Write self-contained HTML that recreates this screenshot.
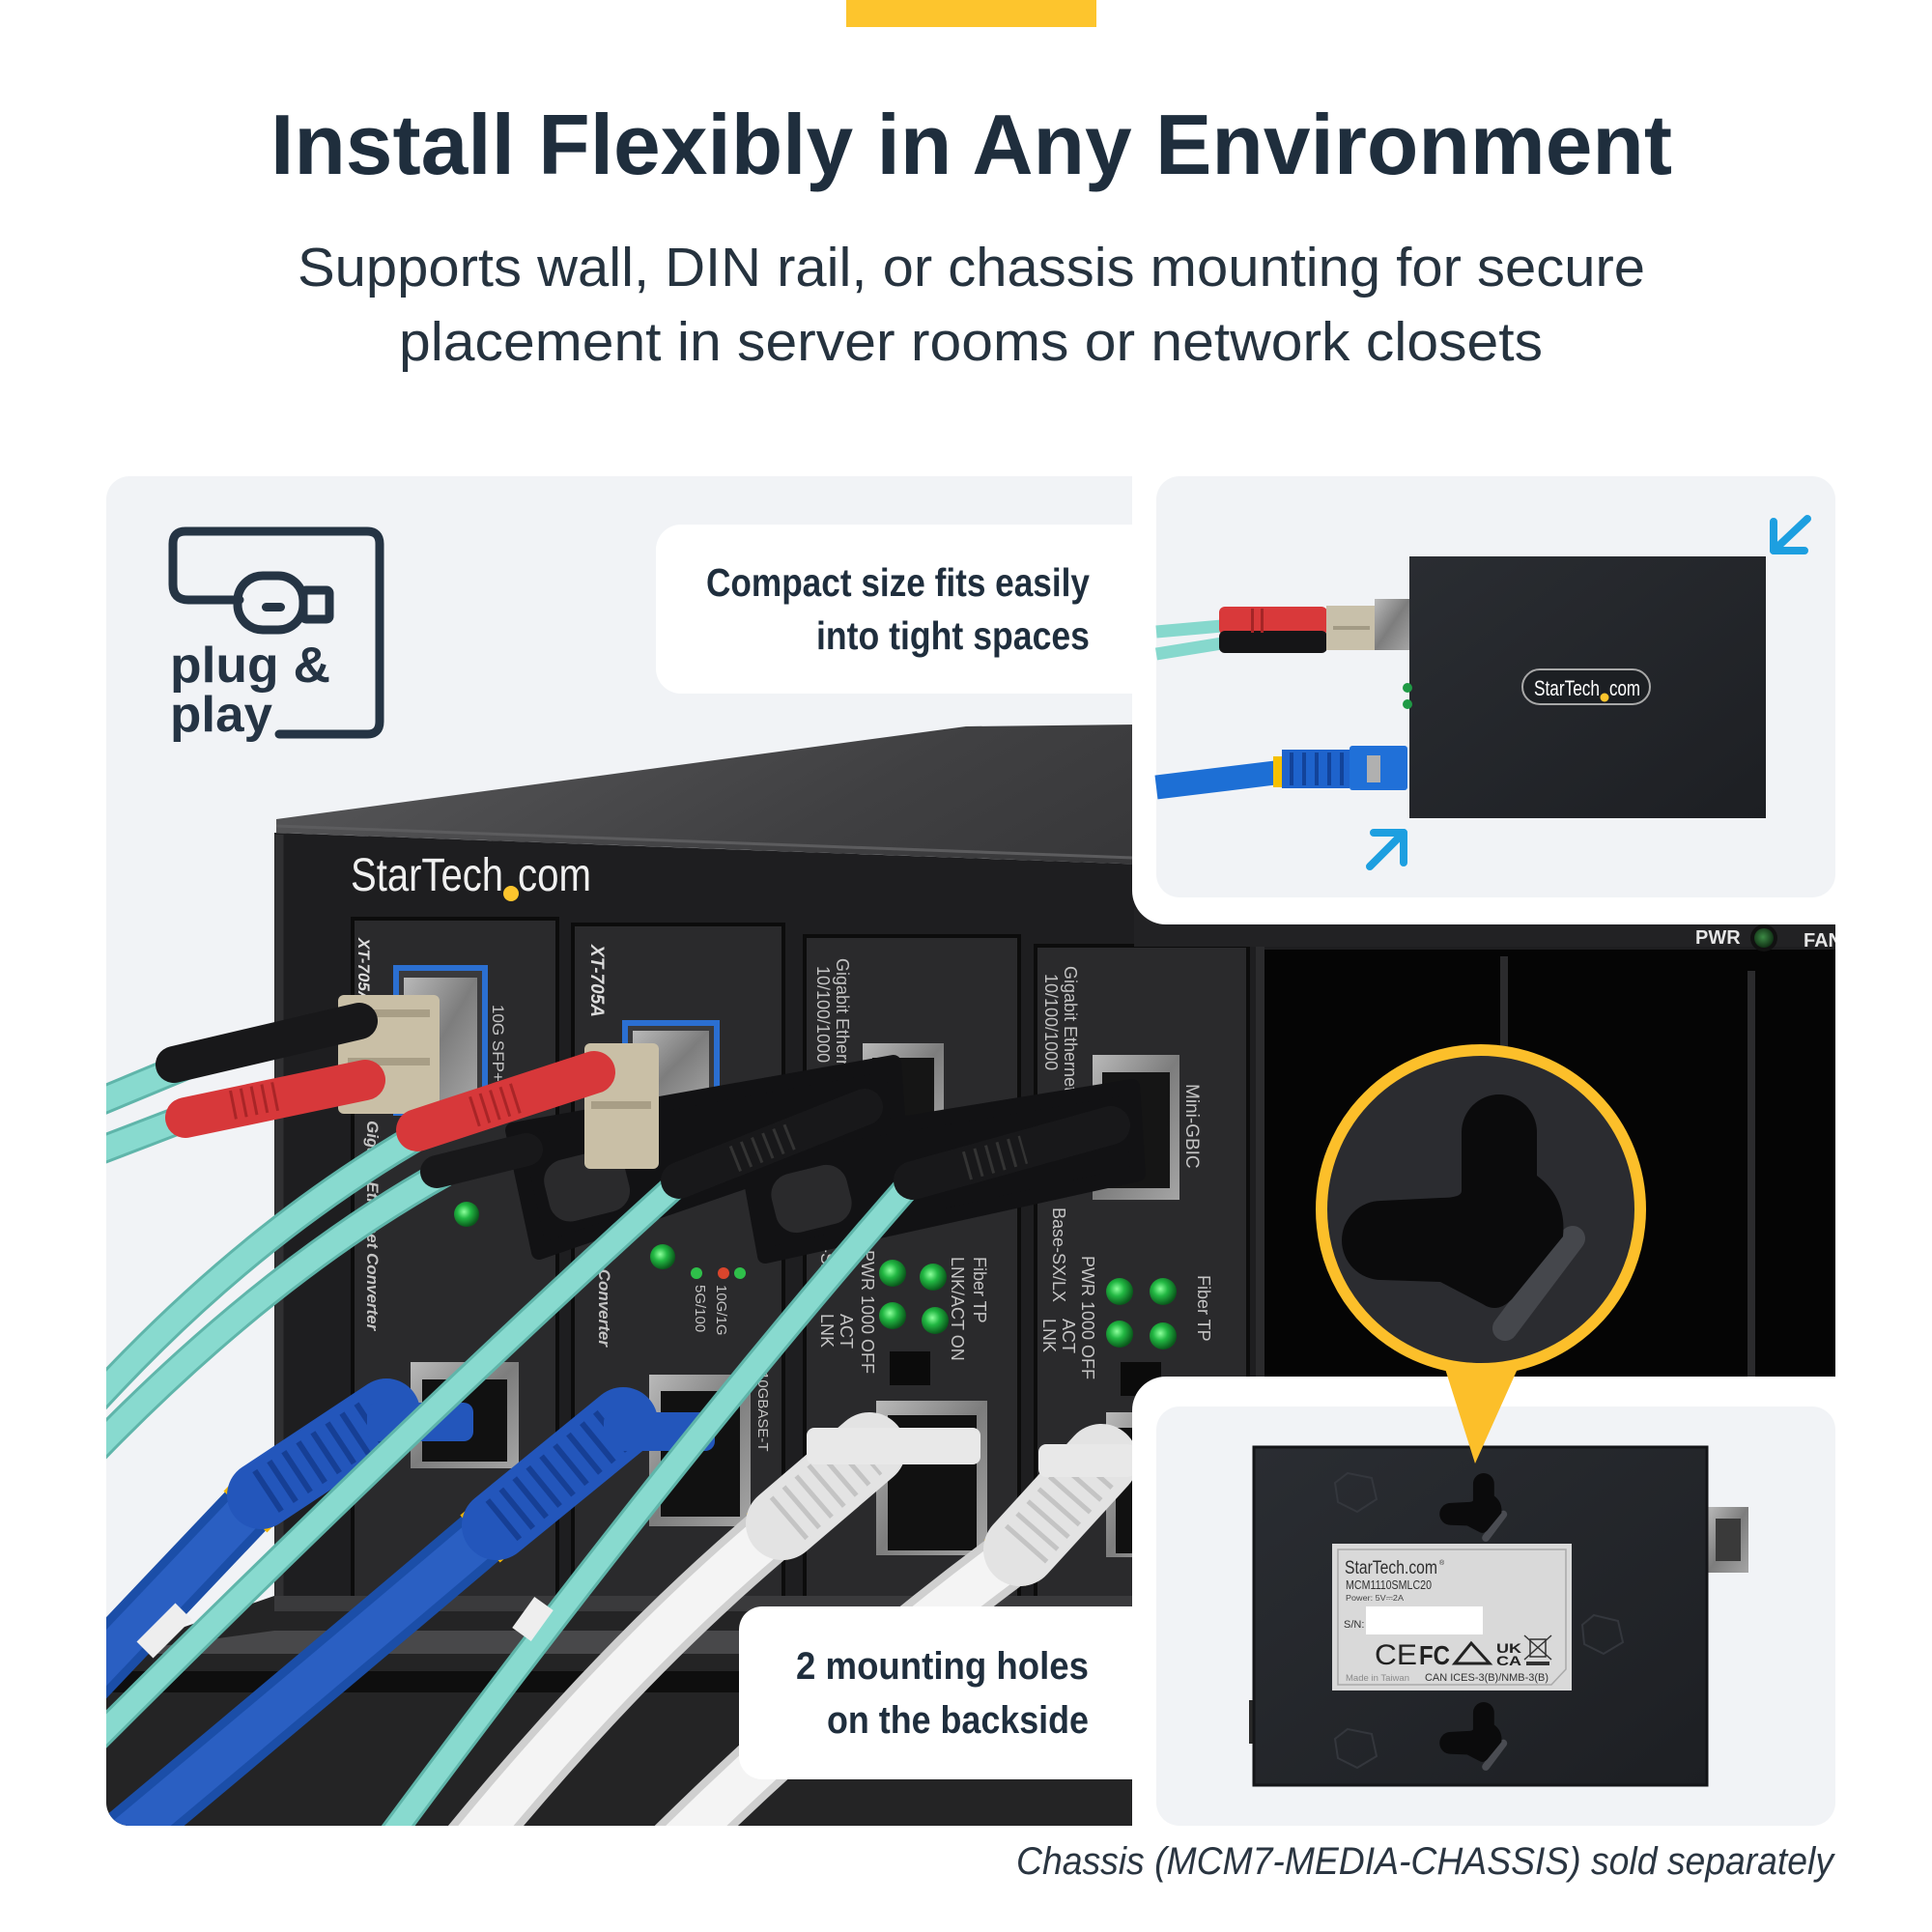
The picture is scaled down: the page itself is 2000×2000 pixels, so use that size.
<!DOCTYPE html>
<html><head><meta charset="utf-8">
<style>
html,body{margin:0;padding:0;background:#fff;}
svg{display:block;}
</style></head>
<body>
<svg width="2000" height="2000" viewBox="0 0 2000 2000" xmlns="http://www.w3.org/2000/svg" font-family="'Liberation Sans', 'DejaVu Sans', sans-serif">
<defs>
  <clipPath id="mainclip"><rect x="110" y="493" width="1790" height="1397" rx="24"/></clipPath>
  <linearGradient id="topsurf" x1="0" y1="0" x2="1" y2="0.2">
    <stop offset="0" stop-color="#5a5a5c"/><stop offset="0.45" stop-color="#404042"/><stop offset="1" stop-color="#2c2c2e"/>
  </linearGradient>
  <linearGradient id="dev" x1="0" y1="0" x2="1" y2="1">
    <stop offset="0" stop-color="#2a2d32"/><stop offset="1" stop-color="#1d1f23"/>
  </linearGradient>
  <radialGradient id="led" cx="0.4" cy="0.4" r="0.6">
    <stop offset="0" stop-color="#8dff9c"/><stop offset="0.45" stop-color="#22b843"/><stop offset="1" stop-color="#0a5a1c"/>
  </radialGradient>
  <radialGradient id="ledd" cx="0.45" cy="0.45" r="0.6">
    <stop offset="0" stop-color="#3c8a45"/><stop offset="1" stop-color="#0e2a12"/>
  </radialGradient>
  <linearGradient id="metal" x1="0" y1="0" x2="1" y2="1">
    <stop offset="0" stop-color="#b9b9b9"/><stop offset="0.5" stop-color="#7d7d7d"/><stop offset="1" stop-color="#a5a5a5"/>
  </linearGradient>
</defs>

<rect width="2000" height="2000" fill="#ffffff"/>
<rect x="876" y="0" width="259" height="28" fill="#fdc52d"/>

<text x="280" y="180" font-size="88" font-weight="700" fill="#1f2e3d" textLength="1451" lengthAdjust="spacingAndGlyphs">Install Flexibly in Any Environment</text>
<text x="308" y="296" font-size="57" fill="#26333f" textLength="1395" lengthAdjust="spacingAndGlyphs">Supports wall, DIN rail, or chassis mounting for secure</text>
<text x="413" y="373" font-size="57" fill="#26333f" textLength="1184" lengthAdjust="spacingAndGlyphs">placement in server rooms or network closets</text>

<!-- ================= MAIN PHOTO PANEL ================= -->
<g clip-path="url(#mainclip)">
  <rect x="110" y="493" width="1790" height="1397" fill="#f1f3f6"/>

  <!-- chassis top surface -->
  <polygon points="286,848 1000,752 1900,742 1900,921 286,862" fill="url(#topsurf)"/>
  <line x1="286" y1="855" x2="1900" y2="915" stroke="#5c5c5e" stroke-width="3"/>
  <!-- chassis front face -->
  <polygon points="284,862 1900,921 1900,1890 284,1890" fill="#1e1e20"/>
  <line x1="289" y1="864" x2="289" y2="1660" stroke="#303032" stroke-width="9"/>

  <!-- logo -->
  <text x="363" y="922" font-size="48" fill="#f0f0f0" textLength="158" lengthAdjust="spacingAndGlyphs">StarTech</text>
  <circle cx="529" cy="925" r="8" fill="#fdc52d"/>
  <text x="536" y="922" font-size="48" fill="#f0f0f0" textLength="76" lengthAdjust="spacingAndGlyphs">com</text>

  <!-- modules -->
  <rect x="365" y="951" width="212" height="710" fill="#2a2a2c" stroke="#0c0c0c" stroke-width="4"/>
  <rect x="593" y="957" width="218" height="705" fill="#2a2a2c" stroke="#0c0c0c" stroke-width="4"/>
  <rect x="833" y="969" width="222" height="695" fill="#2a2a2c" stroke="#0c0c0c" stroke-width="4"/>
  <rect x="1072" y="979" width="220" height="690" fill="#2a2a2c" stroke="#0c0c0c" stroke-width="4"/>
  <!-- empty slots -->
  <rect x="1300" y="983" width="600" height="700" fill="#050505"/>
  <rect x="1300" y="975" width="9" height="700" fill="#2b2b2d"/>
  <rect x="1553" y="990" width="8" height="700" fill="#2b2b2d"/>
  <rect x="1809" y="1005" width="8" height="700" fill="#2b2b2d"/>
  <!-- top band right -->
  <rect x="1174" y="940" width="726" height="40" fill="#222224"/>
  <text x="1755" y="977" font-size="20" font-weight="700" fill="#e6e6e6">PWR</text>
  <circle cx="1826" cy="971" r="14" fill="#111"/>
  <circle cx="1826" cy="971" r="10" fill="url(#ledd)"/>
  <text x="1867" y="980" font-size="20" font-weight="700" fill="#e6e6e6">FAN</text>

  <!-- module labels -->
  <g fill="#c4c4c4" font-size="17">
    <text transform="translate(371,971) rotate(90)" font-weight="700" font-style="italic" fill="#dcdcdc">XT-705A</text>
    <text transform="translate(612,978) rotate(90)" font-weight="700" font-style="italic" fill="#dcdcdc" font-size="19">XT-705A</text>
    <text transform="translate(510,1040) rotate(90)">10G SFP+</text>
    <text transform="translate(380,1160) rotate(90)" font-weight="700" font-style="italic">Gigabit Ethernet Converter</text>
    <text transform="translate(620,1240) rotate(90)" font-weight="700" font-style="italic">Ethernet Converter</text>
    <text transform="translate(866,992) rotate(90)" font-size="18">Gigabit Ethernet</text>
    <text transform="translate(846,1000) rotate(90)" font-size="18">10/100/1000</text>
    <text transform="translate(1102,1000) rotate(90)" font-size="18">Gigabit Ethernet</text>
    <text transform="translate(1082,1008) rotate(90)" font-size="18">10/100/1000</text>
    <text transform="translate(1228,1122) rotate(90)" font-size="19">Mini-GBIC</text>
    <text transform="translate(1090,1250) rotate(90)" font-size="18">Base-SX/LX</text>
    <text transform="translate(850,1250) rotate(90)" font-size="18">Base-SX</text>
    <text transform="translate(1008,1301) rotate(90)" font-size="18">Fiber  TP</text>
    <text transform="translate(985,1301) rotate(90)" font-size="18">LNK/ACT  ON</text>
    <text transform="translate(892,1294) rotate(90)" font-size="18">PWR 1000  OFF</text>
    <text transform="translate(870,1360) rotate(90)" font-size="18">ACT</text>
    <text transform="translate(850,1360) rotate(90)" font-size="18">LNK</text>
    <text transform="translate(1240,1320) rotate(90)" font-size="18">Fiber  TP</text>
    <text transform="translate(1120,1300) rotate(90)" font-size="18">PWR 1000  OFF</text>
    <text transform="translate(1100,1365) rotate(90)" font-size="18">ACT</text>
    <text transform="translate(1080,1365) rotate(90)" font-size="18">LNK</text>
    <text transform="translate(520,1420) rotate(90)" font-size="15">10GBASE-T</text>
    <text transform="translate(785,1420) rotate(90)" font-size="15">10GBASE-T</text>
    <text transform="translate(720,1330) rotate(90)" font-size="15">5G/100</text>
    <text transform="translate(742,1330) rotate(90)" font-size="15">10G/1G</text>
  </g>

  <!-- LEDs -->
  <circle cx="483" cy="1257" r="13" fill="url(#led)"/>
  <circle cx="686" cy="1301" r="13" fill="url(#led)"/>
  <circle cx="721" cy="1318" r="6" fill="#2fbf4a"/>
  <circle cx="749" cy="1318" r="6" fill="#d9452c"/>
  <circle cx="766" cy="1318" r="6" fill="#2fbf4a"/>
  <circle cx="924" cy="1318" r="14" fill="url(#led)"/>
  <circle cx="966" cy="1322" r="14" fill="url(#led)"/>
  <circle cx="924" cy="1362" r="14" fill="url(#led)"/>
  <circle cx="968" cy="1367" r="14" fill="url(#led)"/>
  <circle cx="1159" cy="1337" r="14" fill="url(#led)"/>
  <circle cx="1204" cy="1337" r="14" fill="url(#led)"/>
  <circle cx="1159" cy="1381" r="14" fill="url(#led)"/>
  <circle cx="1204" cy="1383" r="14" fill="url(#led)"/>
  <rect x="921" y="1399" width="42" height="35" fill="#0b0b0b"/>
  <rect x="1160" y="1410" width="42" height="35" fill="#0b0b0b"/>

  <!-- SFP cages -->
  <rect x="410" y="1002" width="92" height="150" fill="#3a3a3c" stroke="#2b6fd1" stroke-width="6"/>
  <rect x="418" y="1012" width="76" height="130" fill="url(#metal)"/>
  <rect x="647" y="1059" width="95" height="96" fill="#3a3a3c" stroke="#2b6fd1" stroke-width="6"/>
  <rect x="655" y="1067" width="79" height="80" fill="url(#metal)"/>
  <rect x="893" y="1080" width="84" height="101" fill="url(#metal)"/>
  <rect x="903" y="1095" width="64" height="75" fill="#151515"/>
  <rect x="1131" y="1092" width="90" height="150" fill="url(#metal)"/>
  <rect x="1141" y="1110" width="70" height="120" fill="#151515"/>

  <!-- RJ45 ports -->
  <rect x="425" y="1410" width="112" height="110" fill="url(#metal)"/>
  <rect x="437" y="1428" width="88" height="85" fill="#111"/>
  <rect x="672" y="1423" width="105" height="157" fill="url(#metal)"/>
  <rect x="684" y="1440" width="82" height="130" fill="#111"/>
  <rect x="907" y="1450" width="115" height="160" fill="url(#metal)"/>
  <rect x="919" y="1465" width="92" height="140" fill="#111"/>
  <rect x="1145" y="1462" width="80" height="150" fill="url(#metal)"/>
  <rect x="1155" y="1478" width="60" height="130" fill="#111"/>

  <!-- bottom stand -->
  <polygon points="110,1712 284,1652 1900,1652 1900,1890 110,1890" fill="#242425"/>
  <polygon points="284,1652 1900,1652 1900,1668 284,1668" fill="#3a3a3c"/>
  <polygon points="110,1712 284,1688 1900,1688 1900,1712" fill="#48484a"/>
  <rect x="110" y="1730" width="1790" height="22" fill="#0e0e0e"/>

  <!-- blue ethernet cables -->
  <path d="M40,1790 L262,1556" stroke="#1b4ea8" stroke-width="58" fill="none"/>
  <path d="M40,1790 L262,1556" stroke="#2a5fc2" stroke-width="40" fill="none"/>
  <path d="M254,1565 L272,1546" stroke="#f2b705" stroke-width="62" fill="none"/>
  <path d="M270,1548 L400,1462" stroke="#2356bb" stroke-width="70" stroke-linecap="round" fill="none"/>
  <path d="M275,1545 L395,1466" stroke="#163f95" stroke-width="50" stroke-dasharray="6 12" fill="none"/>
  <rect x="380" y="1452" width="110" height="40" rx="10" fill="#2356bb"/>

  <path d="M60,1960 Q300,1760 505,1586" stroke="#1b4ea8" stroke-width="60" fill="none"/>
  <path d="M60,1960 Q300,1760 505,1586" stroke="#2a5fc2" stroke-width="42" fill="none"/>
  <path d="M497,1593 L516,1577" stroke="#f2b705" stroke-width="64" fill="none"/>
  <path d="M514,1579 L645,1472" stroke="#2356bb" stroke-width="72" stroke-linecap="round" fill="none"/>
  <path d="M519,1575 L640,1476" stroke="#163f95" stroke-width="52" stroke-dasharray="6 12" fill="none"/>
  <rect x="625" y="1462" width="115" height="40" rx="10" fill="#2356bb"/>

  <!-- white ethernet cables -->
  <path d="M470,1930 Q640,1720 802,1584" stroke="#cfcfcf" stroke-width="60" fill="none"/>
  <path d="M470,1930 Q640,1720 802,1584" stroke="#f4f4f4" stroke-width="44" fill="none"/>
  <path d="M794,1591 L812,1575" stroke="#f2b705" stroke-width="64" fill="none"/>
  <path d="M810,1577 L900,1500" stroke="#e3e3e3" stroke-width="76" stroke-linecap="round" fill="none"/>
  <path d="M815,1573 L895,1504" stroke="#c4c4c4" stroke-width="56" stroke-dasharray="5 12" fill="none"/>
  <rect x="835" y="1478" width="180" height="38" rx="8" fill="#e8e8e8"/>

  <path d="M680,1930 Q860,1750 1048,1611" stroke="#cfcfcf" stroke-width="60" fill="none"/>
  <path d="M680,1930 Q860,1750 1048,1611" stroke="#f4f4f4" stroke-width="44" fill="none"/>
  <path d="M1040,1618 L1058,1602" stroke="#f2b705" stroke-width="64" fill="none"/>
  <path d="M1056,1604 L1140,1512" stroke="#e3e3e3" stroke-width="76" stroke-linecap="round" fill="none"/>
  <path d="M1061,1600 L1135,1516" stroke="#c4c4c4" stroke-width="56" stroke-dasharray="5 12" fill="none"/>
  <rect x="1075" y="1495" width="100" height="34" rx="8" fill="#e8e8e8"/>

  <!-- pull tabs -->
  <polygon points="531,1170 925,1100 930,1168 558,1296" fill="#121214" stroke="#121214" stroke-width="16" stroke-linejoin="round"/>
  <rect x="565" y="1195" width="85" height="65" rx="22" fill="#2a2a2c" transform="rotate(-14 607 1227)"/>
  <polygon points="772,1190 1172,1125 1178,1215 792,1300" fill="#121214" stroke="#121214" stroke-width="16" stroke-linejoin="round"/>
  <rect x="800" y="1210" width="80" height="62" rx="22" fill="#2a2a2c" transform="rotate(-14 840 1241)"/>

  <!-- teal fiber cables -->
  <g fill="none" stroke-linecap="butt">
    <path d="M200,1100 L80,1150" stroke="#5fb5aa" stroke-width="30"/>
    <path d="M200,1100 L80,1150" stroke="#88dacf" stroke-width="24"/>
    <path d="M205,1152 L80,1200" stroke="#5fb5aa" stroke-width="30"/>
    <path d="M205,1152 L80,1200" stroke="#88dacf" stroke-width="24"/>
    <path d="M440,1172 Q250,1280 80,1470" stroke="#5fb5aa" stroke-width="30"/>
    <path d="M440,1172 Q250,1280 80,1470" stroke="#88dacf" stroke-width="24"/>
    <path d="M460,1214 Q270,1320 80,1520" stroke="#5fb5aa" stroke-width="30"/>
    <path d="M460,1214 Q270,1320 80,1520" stroke="#88dacf" stroke-width="24"/>
    <path d="M705,1222 Q420,1480 90,1810" stroke="#5fb5aa" stroke-width="28"/>
    <path d="M705,1222 Q420,1480 90,1810" stroke="#88dacf" stroke-width="22"/>
    <path d="M945,1222 Q700,1500 390,1920" stroke="#5fb5aa" stroke-width="28"/>
    <path d="M945,1222 Q700,1500 390,1920" stroke="#88dacf" stroke-width="22"/>
    <path d="M190,1668 L150,1708" stroke="#eeeeee" stroke-width="24"/>
    <path d="M563,1660 L540,1692" stroke="#eeeeee" stroke-width="24"/>
  </g>

  <!-- LC connectors -->
  <rect x="350" y="1030" width="105" height="123" rx="6" fill="#c9bfa6"/>
  <rect x="360" y="1045" width="85" height="8" fill="#a89e86"/>
  <rect x="360" y="1095" width="85" height="8" fill="#a89e86"/>
  <rect x="605" y="1080" width="77" height="130" rx="6" fill="#c9bfa6"/>
  <rect x="612" y="1140" width="62" height="8" fill="#a89e86"/>

  <!-- boots -->
  <path d="M180,1102 L372,1057" stroke="#18181a" stroke-width="38" stroke-linecap="round"/>
  <path d="M192,1157 L378,1118" stroke="#d7383a" stroke-width="42" stroke-linecap="round"/>
  <path d="M240,1144 L290,1134" stroke="#a92527" stroke-width="30" stroke-dasharray="3 8"/>
  <path d="M452,1213 L545,1190" stroke="#18181a" stroke-width="34" stroke-linecap="round"/>
  <path d="M432,1170 L615,1110" stroke="#d7383a" stroke-width="44" stroke-linecap="round"/>
  <path d="M490,1151 L540,1135" stroke="#a92527" stroke-width="32" stroke-dasharray="3 8"/>
  <path d="M703,1222 L895,1146" stroke="#18181a" stroke-width="38" stroke-linecap="round"/>
  <path d="M760,1200 L820,1176" stroke="#333" stroke-width="28" stroke-dasharray="3 9"/>
  <path d="M945,1222 L1150,1165" stroke="#18181a" stroke-width="40" stroke-linecap="round"/>
  <path d="M1000,1207 L1060,1190" stroke="#333" stroke-width="30" stroke-dasharray="3 9"/>
</g>

<!-- ================= TOP RIGHT PANEL ================= -->
<path d="M1172,470 H1910 V957 H1207 A35,35 0 0 1 1172,922 Z" fill="#ffffff"/>
<rect x="1197" y="493" width="703" height="436" rx="24" fill="#f1f3f6"/>
<!-- fiber -->
<path d="M1197,654 L1265,648" stroke="#86d8cd" stroke-width="13"/>
<path d="M1197,677 L1265,666" stroke="#86d8cd" stroke-width="13"/>
<rect x="1262" y="628" width="112" height="29" rx="6" fill="#d9393a"/>
<rect x="1262" y="653" width="112" height="23" rx="6" fill="#151517"/>
<rect x="1295" y="630" width="3" height="25" fill="#a52526"/>
<rect x="1305" y="630" width="3" height="25" fill="#a52526"/>
<rect x="1373" y="627" width="50" height="46" fill="#c8c0aa"/>
<rect x="1380" y="648" width="38" height="4" fill="#a39b85"/>
<rect x="1423" y="620" width="36" height="53" fill="url(#metal)"/>
<!-- device -->
<rect x="1459" y="576" width="369" height="271" fill="url(#dev)"/>
<rect x="1576" y="693" width="132" height="36" rx="18" fill="#1c1f23" stroke="#a8a8a8" stroke-width="2"/>
<text x="1588" y="720" font-size="22" fill="#ffffff" textLength="68" lengthAdjust="spacingAndGlyphs">StarTech</text>
<circle cx="1661" cy="722" r="4.5" fill="#fdc52d"/>
<text x="1666" y="720" font-size="22" fill="#ffffff" textLength="32" lengthAdjust="spacingAndGlyphs">com</text>
<circle cx="1457" cy="712" r="5" fill="#1f9a45"/>
<circle cx="1457" cy="729" r="5" fill="#1f9a45"/>
<!-- blue cable -->
<path d="M1197,815 L1320,800" stroke="#1d6fd5" stroke-width="25"/>
<rect x="1318" y="783" width="10" height="32" fill="#f5c000"/>
<rect x="1327" y="776" width="70" height="40" fill="#1e63cc"/>
<path d="M1335,796 H1395" stroke="#12439a" stroke-width="34" stroke-dasharray="4 9"/>
<rect x="1397" y="772" width="60" height="46" rx="3" fill="#2070d8"/>
<rect x="1415" y="782" width="14" height="28" fill="#b0b0b0"/>
<!-- arrows -->
<g stroke="#1d9fe0" stroke-width="8" fill="none" stroke-linecap="round" stroke-linejoin="round">
  <polyline points="1422,862 1453,862 1453,893"/>
  <line x1="1453" y1="862" x2="1418" y2="897"/>
  <polyline points="1836,540 1836,570 1868,570"/>
  <line x1="1836" y1="570" x2="1871" y2="537"/>
</g>

<!-- "Compact" callout -->
<path d="M705,543 H1180 V718 H705 A26,26 0 0 1 679,692 V569 A26,26 0 0 1 705,543 Z" fill="#ffffff"/>
<text x="731" y="617" font-size="41" font-weight="700" fill="#1f2e3d" textLength="397" lengthAdjust="spacingAndGlyphs">Compact size fits easily</text>
<text x="845" y="672" font-size="41" font-weight="700" fill="#1f2e3d" textLength="283" lengthAdjust="spacingAndGlyphs">into tight spaces</text>

<!-- ================= BOTTOM RIGHT PANEL ================= -->
<path d="M1207,1425 H1910 V1910 H1172 V1460 A35,35 0 0 1 1207,1425 Z" fill="#ffffff"/>
<rect x="1197" y="1456" width="703" height="434" rx="24" fill="#f1f3f6"/>
<rect x="1768" y="1560" width="42" height="68" fill="url(#metal)"/>
<rect x="1776" y="1572" width="26" height="44" fill="#3a3a3a"/>
<rect x="1293" y="1760" width="8" height="45" fill="#2a2a2a"/>
<rect x="1298" y="1498" width="469" height="350" fill="url(#dev)" stroke="#141518" stroke-width="3"/>
<g fill="none" stroke="#34373d" stroke-width="2">
  <polygon points="1395,1525 1420,1530 1425,1552 1405,1565 1385,1555 1382,1535"/>
  <polygon points="1650,1672 1675,1678 1680,1700 1660,1712 1640,1702 1638,1682"/>
  <polygon points="1395,1790 1420,1795 1425,1818 1405,1830 1385,1820 1382,1800"/>
</g>
<!-- label -->
<rect x="1379" y="1598" width="248" height="152" fill="#d9d9d9"/>
<path d="M1385,1604 H1621 V1728 L1606,1744 H1385 Z" fill="none" stroke="#a9a9a9" stroke-width="1.5"/>
<text x="1392" y="1629" font-size="19" fill="#2e2e2e" textLength="96" lengthAdjust="spacingAndGlyphs">StarTech.com</text>
<text x="1490" y="1620" font-size="7" fill="#2e2e2e">®</text>
<text x="1393" y="1645" font-size="12.5" fill="#333" textLength="89" lengthAdjust="spacingAndGlyphs">MCM1110SMLC20</text>
<text x="1393" y="1657" font-size="8.5" fill="#444" textLength="60" lengthAdjust="spacingAndGlyphs">Power: 5V⎓2A</text>
<text x="1391" y="1685" font-size="11" fill="#333">S/N:</text>
<rect x="1414" y="1663" width="121" height="29" fill="#ffffff"/>
<text x="1423" y="1723" font-size="30" fill="#222" textLength="44" lengthAdjust="spacingAndGlyphs">CE</text>
<text x="1469" y="1723" font-size="28" font-weight="700" fill="#222" textLength="32" lengthAdjust="spacingAndGlyphs">FC</text>
<polygon points="1506,1722 1523,1701 1542,1722" fill="none" stroke="#222" stroke-width="3"/>
<text x="1549" y="1711" font-size="14" font-weight="700" fill="#222" textLength="26" lengthAdjust="spacingAndGlyphs">UK</text>
<text x="1549" y="1724" font-size="14" font-weight="700" fill="#222" textLength="26" lengthAdjust="spacingAndGlyphs">CA</text>
<g stroke="#333" stroke-width="1.5" fill="none">
  <rect x="1584" y="1697" width="16" height="18"/>
  <line x1="1578" y1="1693" x2="1606" y2="1718"/>
  <line x1="1606" y1="1693" x2="1578" y2="1718"/>
</g>
<rect x="1580" y="1720" width="24" height="4" fill="#333"/>
<text x="1393" y="1740" font-size="9.5" fill="#8a8a8a" textLength="66" lengthAdjust="spacingAndGlyphs">Made in Taiwan</text>
<text x="1475" y="1740" font-size="11" fill="#333" textLength="128" lengthAdjust="spacingAndGlyphs">CAN ICES-3(B)/NMB-3(B)</text>
<!-- small keyholes -->
<g transform="translate(1101.3,1207.8) scale(0.28)">
  <path d="M1625,1285 L1560,1372" stroke="#4a4c52" stroke-width="28" stroke-linecap="round"/>
  <path d="M1513,1233 L1513,1172 A39,39 0 0 1 1591,1172 L1591,1217 Q1622,1240 1618,1280 L1565,1345 Q1550,1360 1535,1350 L1491,1327 L1430,1325 A41,41 0 0 1 1430,1243 L1491,1240 Q1513,1240 1513,1233 Z" fill="#0b0b0c"/>
</g>
<g transform="translate(1101.3,1444.8) scale(0.28)">
  <path d="M1625,1285 L1560,1372" stroke="#4a4c52" stroke-width="28" stroke-linecap="round"/>
  <path d="M1513,1233 L1513,1172 A39,39 0 0 1 1591,1172 L1591,1217 Q1622,1240 1618,1280 L1565,1345 Q1550,1360 1535,1350 L1491,1327 L1430,1325 A41,41 0 0 1 1430,1243 L1491,1240 Q1513,1240 1513,1233 Z" fill="#0b0b0c"/>
</g>

<!-- "2 mounting holes" callout -->
<path d="M789,1663 H1180 V1842 H789 A24,24 0 0 1 765,1818 V1687 A24,24 0 0 1 789,1663 Z" fill="#ffffff"/>
<text x="824" y="1738" font-size="40" font-weight="700" fill="#1f2e3d" textLength="303" lengthAdjust="spacingAndGlyphs">2 mounting holes</text>
<text x="856" y="1794" font-size="40" font-weight="700" fill="#1f2e3d" textLength="271" lengthAdjust="spacingAndGlyphs">on the backside</text>

<!-- magnifier -->
<circle cx="1533" cy="1252" r="165" fill="#2b2c30" stroke="#fcbf2a" stroke-width="12"/>
<path d="M1628,1282 L1558,1375" stroke="#45474c" stroke-width="26" stroke-linecap="round"/>
<path d="M1513,1233 L1513,1172 A39,39 0 0 1 1591,1172 L1591,1217 Q1622,1240 1618,1280 L1565,1345 Q1550,1360 1535,1350 L1491,1327 L1430,1325 A41,41 0 0 1 1430,1243 L1491,1240 Q1513,1240 1513,1233 Z" fill="#0b0b0c"/>
<polygon points="1496,1417 1571,1417 1527,1515" fill="#fcbf2a"/>

<!-- plug & play icon -->
<g stroke="#253444" stroke-width="9" fill="none" stroke-linecap="round" stroke-linejoin="round">
  <path d="M289,760 H380 Q393,760 393,747 V563 Q393,550 380,550 H192 Q179,550 179,563 V605 Q179,621 195,621 H248"/>
  <rect x="246" y="596" width="68" height="56" rx="26"/>
  <rect x="314" y="611" width="27" height="30" rx="3"/>
</g>
<rect x="271" y="624" width="24" height="9" rx="4.5" fill="#253444"/>
<text x="176" y="706" font-size="52" font-weight="700" fill="#253444" textLength="166" lengthAdjust="spacingAndGlyphs">plug &amp;</text>
<text x="176" y="757" font-size="52" font-weight="700" fill="#253444" textLength="106" lengthAdjust="spacingAndGlyphs">play</text>

<!-- caption -->
<text x="1052" y="1940" font-size="40" font-style="italic" fill="#2a3541" textLength="846" lengthAdjust="spacingAndGlyphs">Chassis (MCM7-MEDIA-CHASSIS) sold separately</text>
</svg>
</body></html>
